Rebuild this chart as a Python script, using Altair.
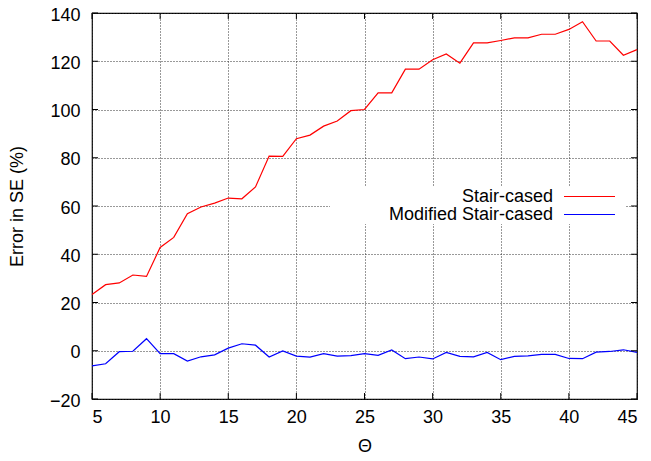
import altair as alt
import pandas as pd

theta = list(range(5, 46))
stair_cased = [23.3, 27.4, 28.1, 31.4, 30.8, 42.8, 47.0, 56.8, 59.6, 61.2,
               63.3, 63.0, 67.9, 80.7, 80.6, 87.9, 89.4, 93.1, 95.2, 99.5,
               100.0, 106.9, 106.9, 116.7, 116.7, 120.6, 123.0, 119.2, 127.6, 127.6,
               128.6, 129.7, 129.7, 131.2, 131.2, 133.2, 136.4, 128.4, 128.4, 122.5,
               124.8]
modified = [-6.3, -5.4, -0.4, -0.2, 5.0, -1.2, -1.2, -4.3, -2.5, -1.7,
            1.1, 2.9, 2.3, -2.6, -0.1, -2.2, -2.6, -1.2, -2.2, -2.0,
            -1.2, -1.9, 0.3, -3.3, -2.6, -3.4, -0.7, -2.3, -2.5, -0.7,
            -3.7, -2.3, -2.1, -1.5, -1.5, -3.2, -3.3, -0.6, -0.3, 0.4,
            -0.7]
series_names = ["Stair-cased", "Modified Stair-cased"]
series_colors = ["#ff0000", "#0000ff"]
x_ticks = [5, 10, 15, 20, 25, 30, 35, 40, 45]
y_ticks = [-20, 0, 20, 40, 60, 80, 100, 120, 140]

W, H = 545, 386
FONT = "Liberation Sans"
FS = 18

df = pd.concat([
    pd.DataFrame({"theta": theta, "err": stair_cased, "series": series_names[0]}),
    pd.DataFrame({"theta": theta, "err": modified, "series": series_names[1]}),
])

xscale = alt.Scale(domain=[5, 45], nice=False, zero=False)
yscale = alt.Scale(domain=[-20, 140], nice=False, zero=False)

xaxis = alt.Axis(values=x_ticks, grid=True, gridDash=[1, 2], gridColor="#333333",
                 gridOpacity=1, tickSize=0, domain=False, labelPadding=9,
                 labelFontSize=FS, labelFont=FONT, labelColor="black",
                 title="Θ", titleFont=FONT, titleFontSize=FS, titleFontWeight="normal",
                 titleColor="black", titleX=W / 2, titleY=47, titleBaseline="middle")
yaxis = alt.Axis(values=y_ticks, grid=True, gridDash=[1, 2], gridColor="#333333",
                 gridOpacity=1, tickSize=0, domain=False, labelPadding=12, labelOffset=2,
                 labelFontSize=FS, labelFont=FONT, labelColor="black",
                 title="Error in SE (%)", titleFont=FONT, titleFontSize=FS,
                 titleFontWeight="normal", titleColor="black",
                 titleX=-75, titleY=H / 2, titleBaseline="middle", titleAlign="center")

lines = alt.Chart(df).mark_line(strokeWidth=1.2).encode(
    x=alt.X("theta:Q", scale=xscale, axis=xaxis),
    y=alt.Y("err:Q", scale=yscale, axis=yaxis),
    color=alt.Color("series:N", scale=alt.Scale(domain=series_names, range=series_colors), legend=None),
    detail="series:N",
)

xt = pd.DataFrame({"v": x_ticks})
yt = pd.DataFrame({"v": y_ticks})
tick_style = dict(color="black", strokeWidth=1)
bt = alt.Chart(xt).mark_rule(**tick_style).encode(
    x=alt.X("v:Q", scale=xscale), y=alt.value(H), y2=alt.value(H - 6))
tt = alt.Chart(xt).mark_rule(**tick_style).encode(
    x=alt.X("v:Q", scale=xscale), y=alt.value(0), y2=alt.value(6))
lt = alt.Chart(yt).mark_rule(**tick_style).encode(
    y=alt.Y("v:Q", scale=yscale), x=alt.value(0), x2=alt.value(6))
rt = alt.Chart(yt).mark_rule(**tick_style).encode(
    y=alt.Y("v:Q", scale=yscale), x=alt.value(W), x2=alt.value(W - 6))

one = pd.DataFrame({"a": [0]})
box = alt.Chart(one).mark_rect(color="white").encode(
    x=alt.value(238), x2=alt.value(533), y=alt.value(173), y2=alt.value(211))
leg_layers = [box]
for i, (name, col) in enumerate(zip(series_names, series_colors)):
    yy = 183.5 + i * 18
    leg_layers.append(alt.Chart(one).mark_text(text=name, align="right", baseline="middle",
                                               font=FONT, fontSize=FS, color="black").encode(
        x=alt.value(461), y=alt.value(yy)))
    leg_layers.append(alt.Chart(one).mark_rule(color=col, strokeWidth=1.2).encode(
        x=alt.value(472), x2=alt.value(523), y=alt.value(yy)))

chart = alt.layer(lines, *leg_layers, bt, tt, lt, rt).properties(
    width=W, height=H,
    autosize=alt.AutoSizeParams(type="none"),
    padding={"left": 84, "top": 5, "right": 6, "bottom": 60},
).configure_view(stroke="black", strokeWidth=1.2)

chart.save("out.html", embed_options={"renderer": "svg", "actions": False})
